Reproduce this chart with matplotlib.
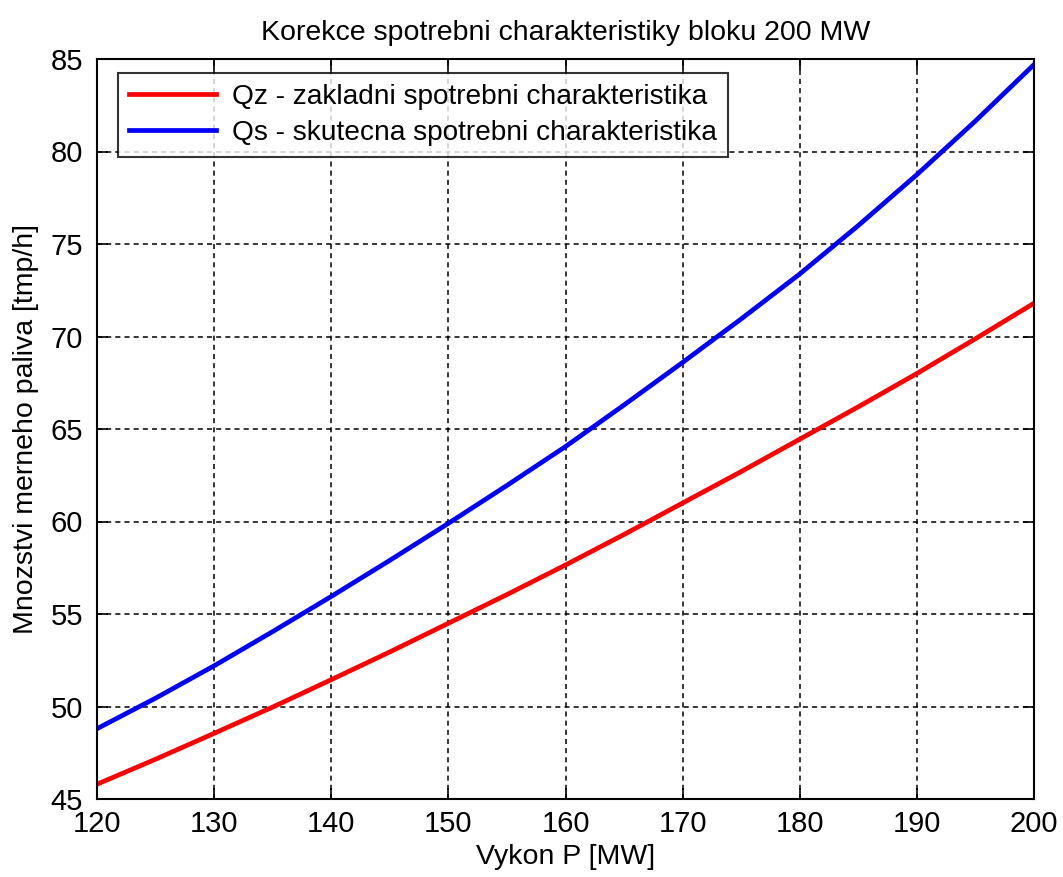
import matplotlib
matplotlib.use("Agg")
import matplotlib.pyplot as plt
import numpy as np

# Data
power_mw = [120, 125, 130, 135, 140, 145, 150, 155, 160, 165, 170, 175, 180, 185, 190, 195, 200]
qz_basic = [45.8, 47.15, 48.55, 49.97, 51.45, 52.95, 54.5, 56.05, 57.65, 59.3, 61.0, 62.7, 64.45, 66.2, 68.0, 69.88, 71.8]
qs_actual = [48.8, 50.45, 52.2, 54.05, 55.95, 57.9, 59.9, 61.95, 64.05, 66.3, 68.6, 70.95, 73.38, 76.0, 78.75, 81.65, 84.7]

x_ticks = [120, 130, 140, 150, 160, 170, 180, 190, 200]
y_ticks = [45, 50, 55, 60, 65, 70, 75, 80, 85]

title = "Korekce spotrebni charakteristiky bloku 200 MW"
xlabel = "Vykon P [MW]"
ylabel = "Mnozstvi merneho paliva [tmp/h]"
label_qz = "Qz - zakladni spotrebni charakteristika"
label_qs = "Qs - skutecna spotrebni charakteristika"

plt.rcParams['font.family'] = ['Liberation Sans', 'DejaVu Sans']

fig = plt.figure(figsize=(10.63, 8.77), dpi=100)
ax = fig.add_axes([97/1063, 78/877, (1034-97)/1063, (799-59)/877])

ax.plot(power_mw, qz_basic, color='#ff0000', lw=3.4, label=label_qz)
ax.plot(power_mw, qs_actual, color='#0000ff', lw=3.4, label=label_qs)

ax.set_xlim(120, 200)
ax.set_ylim(45, 85)
ax.set_xticks(x_ticks)
ax.set_yticks(y_ticks)
ax.tick_params(direction='in', length=8, width=1.2, labelsize=21, top=True, right=True)
ax.tick_params(axis='x', pad=8)
ax.tick_params(axis='y', pad=10)
ax.grid(True, color='black', linestyle=(0, (3.3, 2.7)), linewidth=1.1)
for s in ax.spines.values():
    s.set_linewidth(1.5)

ax.set_title(title, fontsize=20.5, pad=14)
ax.set_xlabel(xlabel, fontsize=20.5, labelpad=4)
ax.set_ylabel(ylabel, fontsize=20.5, labelpad=8)

leg = ax.legend(loc='upper left', bbox_to_anchor=(21/937, 1 - 14/740), fontsize=20.2,
                frameon=True, fancybox=False, edgecolor='black', handlelength=3.1,
                borderpad=0.4, labelspacing=0.35, handletextpad=0.55, borderaxespad=0)
leg.get_frame().set_linewidth(1.5)

fig.savefig("out.png", dpi=100, facecolor='white')
